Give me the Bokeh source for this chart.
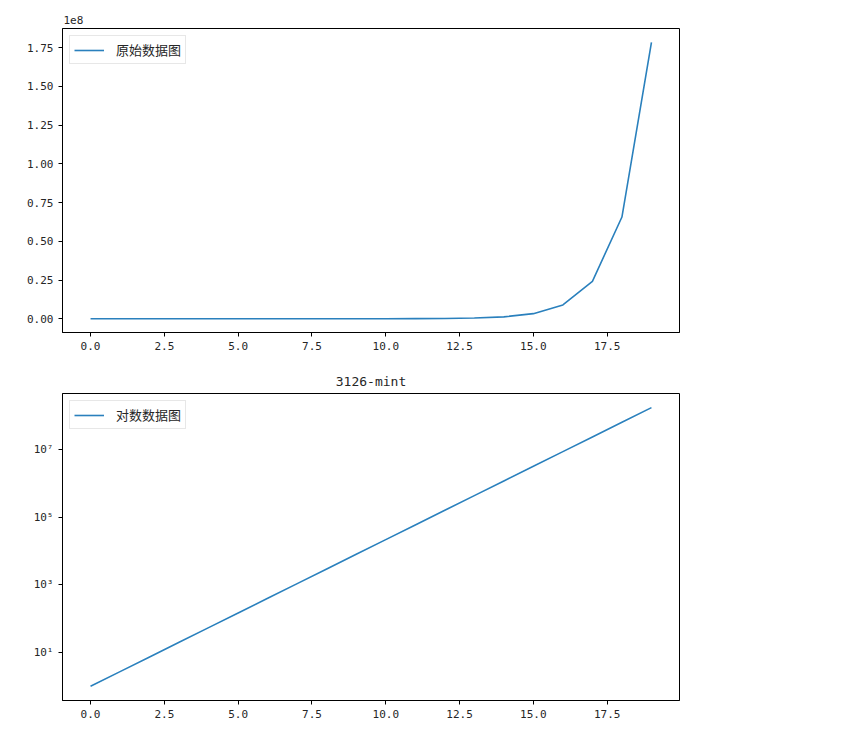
from bokeh.plotting import figure
from bokeh.layouts import column
from bokeh.models import FixedTicker, CustomJSTickFormatter, Legend, LegendItem
from bokeh.embed import file_html
from bokeh.resources import INLINE

# data
x_vals = list(range(20))
y_vals = [1.0, 2.72, 7.39, 20.1, 54.6, 148.4, 403.4, 1096.6, 2981.0, 8103.1,
          22026.5, 59874.1, 162754.8, 442413.4, 1202604.3, 3269017.4,
          8886110.5, 24154952.8, 65659969.1, 178482301.0]
x_ticks = [0.0, 2.5, 5.0, 7.5, 10.0, 12.5, 15.0, 17.5]
lin_ticks = [0.0, 0.25e8, 0.5e8, 0.75e8, 1.0e8, 1.25e8, 1.5e8, 1.75e8]
log_ticks = [1e1, 1e3, 1e5, 1e7]
label_top = "原始数据图"
label_bottom = "对数数据图"
title_bottom = "3126-mint"
offset_text = "1e8"

FONT = "Noto Sans CJK SC"
MONO = "DejaVu Sans Mono"
BLUE = "#2a80bd"
TXT = "#262626"


def style(p):
    p.outline_line_color = "#000000"
    p.outline_line_width = 1
    p.xgrid.visible = False
    p.ygrid.visible = False
    for ax in (p.xaxis[0], p.yaxis[0]):
        ax.axis_line_color = "#000000"
        ax.major_tick_in = 0
        ax.major_tick_out = 4
        ax.minor_tick_in = 0
        ax.minor_tick_out = 0
        ax.major_tick_line_color = "#000000"
        ax.major_label_text_font = MONO
        ax.major_label_text_font_size = "11px"
        ax.major_label_text_color = TXT
        ax.major_label_standoff = 5
    p.xaxis[0].ticker = FixedTicker(ticks=x_ticks)
    p.xaxis[0].formatter = CustomJSTickFormatter(code="return tick.toFixed(1);")


def add_legend(p, r, text):
    leg = Legend(items=[LegendItem(label=text, renderers=[r])], location="top_left")
    leg.label_text_font = FONT
    leg.label_text_font_size = "13px"
    leg.label_text_color = TXT
    leg.border_line_color = "#d0d0d0"
    leg.border_line_width = 1
    leg.glyph_width = 30
    leg.glyph_height = 16
    leg.label_standoff = 12
    leg.label_height = 16
    leg.padding = 4
    leg.margin = 7
    leg.spacing = 0
    p.add_layout(leg)


# top: linear
p1 = figure(frame_width=617, frame_height=304, x_range=(-0.95, 19.95),
            y_range=(-0.089e8, 1.874e8), output_backend="svg",
            toolbar_location=None, min_border_left=62, min_border_right=20,
            min_border_top=28, min_border_bottom=30, title=offset_text)
p1.title.text_font = MONO
p1.title.text_font_size = "11px"
p1.title.text_font_style = "normal"
p1.title.text_color = TXT
p1.title.align = "left"
p1.title.offset = 1
style(p1)
p1.yaxis[0].ticker = FixedTicker(ticks=lin_ticks)
p1.yaxis[0].formatter = CustomJSTickFormatter(code="return (tick/1e8).toFixed(2);")
r1 = p1.line(x_vals, y_vals, line_color=BLUE, line_width=1.6)
add_legend(p1, r1, label_top)

# bottom: log
p2 = figure(frame_width=617, frame_height=307, x_range=(-0.95, 19.95),
            y_range=(10 ** -0.42, 10 ** 8.67), y_axis_type="log",
            output_backend="svg", toolbar_location=None, min_border_left=62,
            min_border_right=20, min_border_top=31, min_border_bottom=30,
            title=title_bottom)
p2.title.text_font = MONO
p2.title.text_font_size = "13px"
p2.title.text_font_style = "normal"
p2.title.text_color = TXT
p2.title.align = "center"
style(p2)
p2.yaxis[0].ticker = FixedTicker(ticks=log_ticks)
p2.yaxis[0].formatter = CustomJSTickFormatter(code="""
const sup = {'0':'\u2070','1':'\u00b9','2':'\u00b2','3':'\u00b3','4':'\u2074','5':'\u2075','6':'\u2076','7':'\u2077','8':'\u2078','9':'\u2079'};
const e = Math.round(Math.log10(tick)).toString();
return '10' + e.split('').map(c => sup[c]).join('');
""")
r2 = p2.line(x_vals, y_vals, line_color=BLUE, line_width=1.6)
add_legend(p2, r2, label_bottom)

layout = column(p1, p2, spacing=0)
open("out.html", "w").write(file_html(layout, INLINE))
